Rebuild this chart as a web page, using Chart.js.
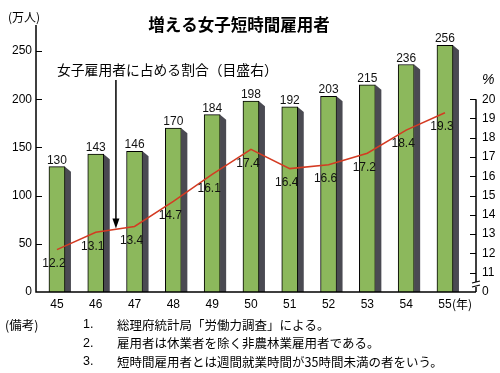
<!DOCTYPE html>
<html><head><meta charset="utf-8">
<script src="https://cdn.jsdelivr.net/npm/chart.js@4"></script>
<style>html,body{margin:0;padding:0;background:#fff}#wrap{width:500px;height:373px}</style>
</head><body>
<div id="wrap"><canvas id="c" width="500" height="373"></canvas></div>
<script>
const years = ['45','46','47','48','49','50','51','52','53','54','55'];
const workers = [130,143,146,170,184,198,192,203,215,236,256];
const sharePct = [12.2,13.1,13.4,14.7,16.1,17.4,16.4,16.6,17.2,18.4,19.3];
const leftTicks = [0,50,100,150,200,250];
const rightTicks = [10,11,12,13,14,15,16,17,18,19,20];
const rightTickLabels = ['0','11','12','13','14','15','16','17','18','19','20'];
const titleText = '増える女子短時間雇用者';
const leftUnit = '(万人)';
const rightUnit = '%';
const yearUnit = '(年)';
const annotation = '女子雇用者に占める割合（目盛右）';
const notesHead = '(備考)';
const noteNums = ['1.','2.','3.'];
const notes = ['総理府統計局「労働力調査」による。','雇用者は休業者を除く非農林業雇用者である。','短時間雇用者とは週間就業時間が35時間未満の者をいう。'];

const JP = '"Noto Sans CJK JP", sans-serif';
const NUM = '"Liberation Sans", Arial, sans-serif';

const deco = {
  id: 'deco',
  beforeDatasetsDraw(chart) {
    const ctx = chart.ctx;
    const meta = chart.getDatasetMeta(0);
    ctx.save();
    ctx.fillStyle = '#4a4a52';
    meta.data.forEach(b => {
      const r = b.x + b.width / 2;
      ctx.beginPath();
      ctx.moveTo(r, b.y);
      ctx.lineTo(r + 6, b.y + 5);
      ctx.lineTo(r + 6, b.base);
      ctx.lineTo(r, b.base);
      ctx.closePath();
      ctx.fill();
    });
    ctx.restore();
  },
  afterDatasetsDraw(chart) {
    const ctx = chart.ctx;
    const {x, y, y2} = chart.scales;
    const area = chart.chartArea;
    ctx.save();
    ctx.fillStyle = '#111';
    ctx.font = '12px ' + NUM;
    ctx.textAlign = 'center';
    ctx.textBaseline = 'alphabetic';
    chart.getDatasetMeta(0).data.forEach((b, i) => {
      ctx.fillText(String(workers[i]), b.x, b.y - 3);
    });
    ctx.textBaseline = 'middle';
    chart.getDatasetMeta(1).data.forEach((p, i) => {
      ctx.fillText(sharePct[i].toFixed(1), p.x - 3, p.y + 14);
    });
    ctx.strokeStyle = '#000';
    ctx.lineWidth = 1.5;
    ctx.beginPath();
    ctx.moveTo(area.left, area.top);
    ctx.lineTo(area.left, area.bottom);
    ctx.lineTo(area.right, area.bottom);
    ctx.moveTo(area.right, y2.getPixelForValue(20));
    ctx.lineTo(area.right, area.bottom);
    ctx.stroke();
    ctx.lineWidth = 1.2;
    ctx.beginPath();
    leftTicks.forEach(v => { if (v > 0) { const py = Math.round(y.getPixelForValue(v)) + 0.5; ctx.moveTo(area.left, py); ctx.lineTo(area.left + 6, py); } });
    rightTicks.forEach(v => { if (v > 10) { const py = Math.round(y2.getPixelForValue(v)) + 0.5; ctx.moveTo(area.right, py); ctx.lineTo(area.right - 6, py); } });
    ctx.stroke();
    ctx.fillStyle = '#fff';
    ctx.fillRect(area.right - 3, area.bottom - 10, 6, 5);
    ctx.beginPath();
    ctx.lineWidth = 1.2;
    ctx.moveTo(area.right - 4, area.bottom - 9); ctx.lineTo(area.right + 4, area.bottom - 11);
    ctx.moveTo(area.right - 4, area.bottom - 5); ctx.lineTo(area.right + 4, area.bottom - 7);
    ctx.stroke();
    const ax = x.getPixelForValue(1.52);
    const tipY = y2.getPixelForValue(13.3);
    ctx.lineWidth = 1.5;
    ctx.beginPath();
    ctx.moveTo(ax, 80); ctx.lineTo(ax, tipY - 8);
    ctx.stroke();
    ctx.fillStyle = '#000';
    ctx.beginPath();
    ctx.moveTo(ax - 3.5, tipY - 10); ctx.lineTo(ax + 3.5, tipY - 10); ctx.lineTo(ax, tipY); ctx.closePath();
    ctx.fill();
    ctx.fillStyle = '#000';
    ctx.textBaseline = 'middle';
    ctx.textAlign = 'center';
    ctx.font = 'bold 16.5px ' + JP;
    ctx.fillText(titleText, 239, 25);
    ctx.textAlign = 'left';
    ctx.font = '12px ' + JP;
    ctx.fillText(leftUnit, 8, 17);
    ctx.font = 'italic 14px ' + NUM;
    ctx.fillText(rightUnit, 482, 80);
    ctx.font = '13.8px ' + JP;
    ctx.fillText(annotation, 57, 70);
    ctx.font = '12px ' + JP;
    ctx.fillText(yearUnit, x.getPixelForValue(10) + 7, 304);
    ctx.font = '12.5px ' + JP;
    ctx.fillText(notesHead, 5, 325);
    const ly = [325, 343.5, 362];
    notes.forEach((t, i) => {
      ctx.font = '12.5px ' + NUM;
      ctx.fillText(noteNums[i], 83, ly[i]);
      ctx.font = '12.5px ' + JP;
      ctx.fillText(t, 117, ly[i]);
    });
    ctx.restore();
  }
};

new Chart(document.getElementById('c'), {
  type: 'bar',
  data: {
    datasets: [
      {
        type: 'bar',
        data: years.map((c, i) => ({x: i, y: workers[i]})),
        yAxisID: 'y',
        backgroundColor: '#8cb85c',
        borderColor: '#000',
        borderWidth: 1,
        barThickness: 16,
        order: 2
      },
      {
        type: 'line',
        data: years.map((c, i) => ({x: i, y: sharePct[i]})),
        yAxisID: 'y2',
        borderColor: '#d43a22',
        borderWidth: 1.5,
        pointRadius: 0,
        tension: 0,
        order: 1
      }
    ]
  },
  options: {
    responsive: false,
    animation: false,
    layout: {padding: {top: 25, left: 0, right: 0, bottom: 0}},
    plugins: {legend: {display: false}, title: {display: false}, tooltip: {enabled: false}},
    scales: {
      x: {
        type: 'linear', min: -0.54, max: 10.8, offset: false,
        grid: {display: false, drawTicks: false, offset: false}, border: {display: false},
        afterBuildTicks: s => { s.ticks = years.map((c, i) => ({value: i})); },
        afterFit: s => { s.height = 81; },
        ticks: {padding: 5, color: '#000', font: {family: NUM, size: 12}, maxRotation: 0, autoSkip: false,
          callback: (v) => years[v] !== undefined ? years[v] : ''}
      },
      y: {
        position: 'left', min: 0, max: 277,
        grid: {display: false, drawTicks: false}, border: {display: false},
        afterBuildTicks: s => { s.ticks = leftTicks.map(v => ({value: v})); },
        afterFit: s => { s.width = 36; },
        ticks: {padding: 4, color: '#000', font: {family: NUM, size: 12}}
      },
      y2: {
        position: 'right', min: 10, max: 23.85,
        grid: {display: false, drawTicks: false}, border: {display: false},
        afterBuildTicks: s => { s.ticks = rightTicks.map(v => ({value: v})); },
        afterFit: s => { s.width = 24; },
        ticks: {padding: 6, color: '#000', font: {family: NUM, size: 12},
          callback: (v) => rightTickLabels[rightTicks.indexOf(v)]}
      }
    }
  },
  plugins: [deco]
});
</script>
</body></html>
